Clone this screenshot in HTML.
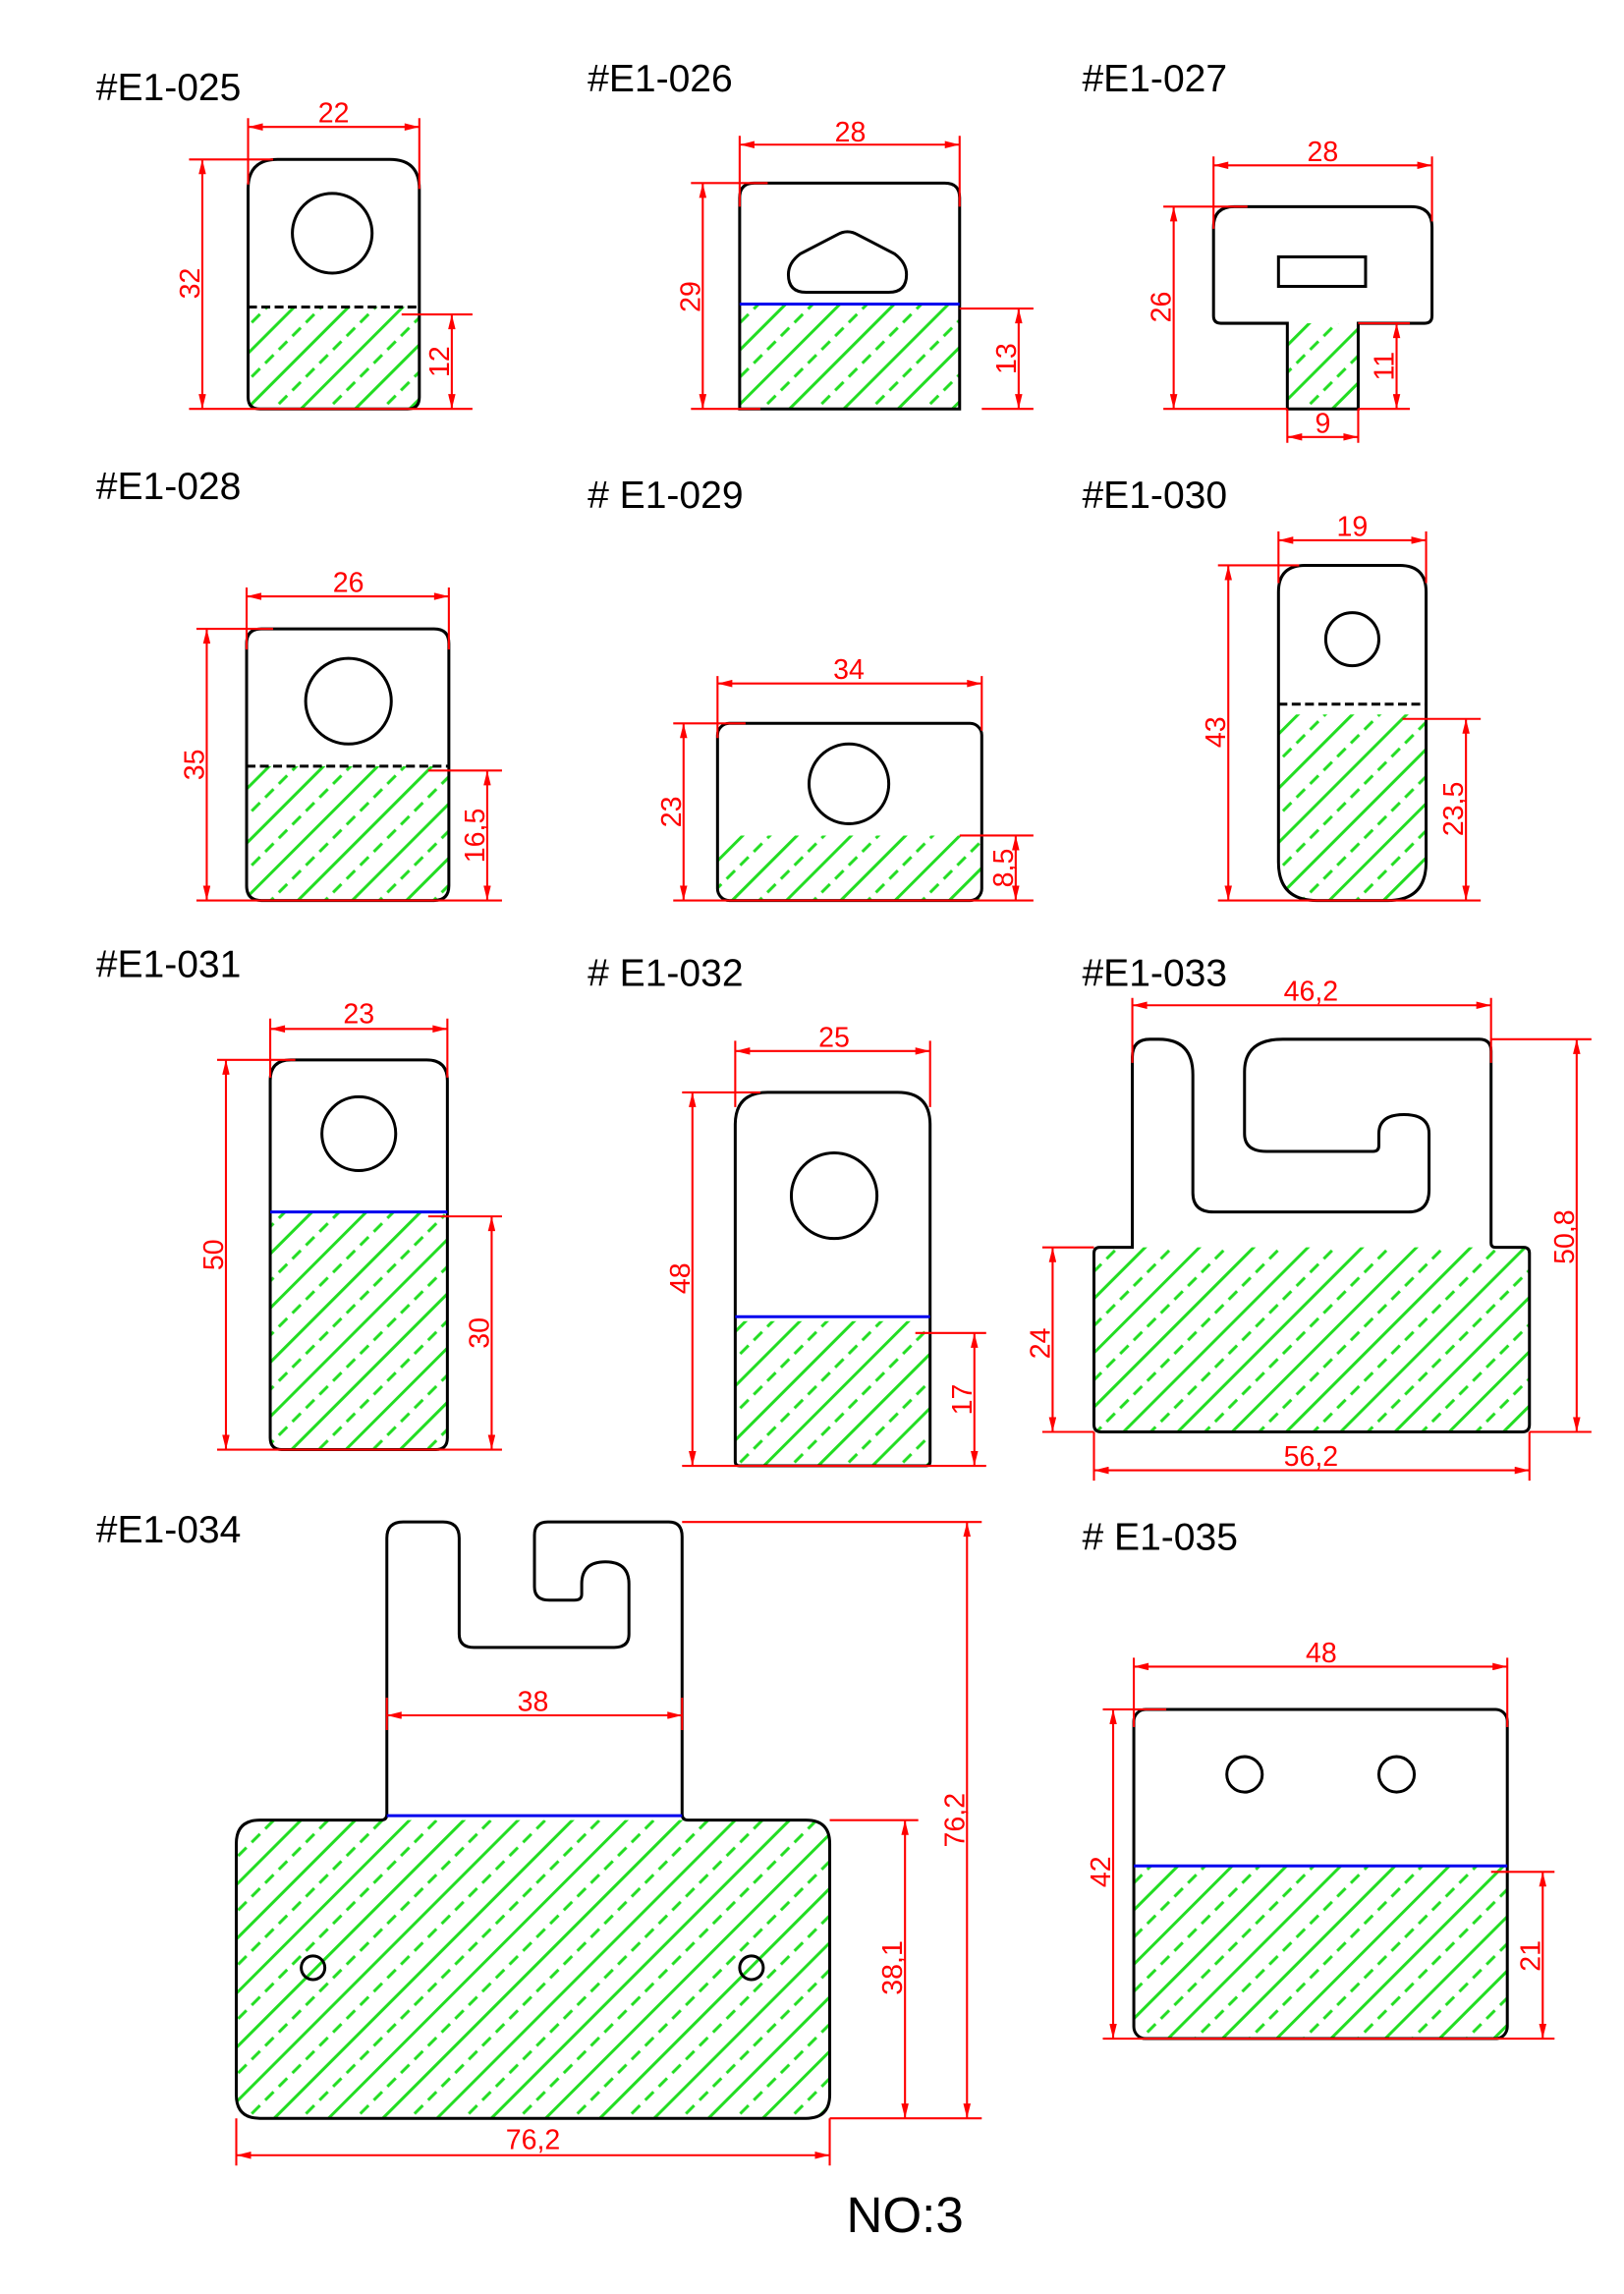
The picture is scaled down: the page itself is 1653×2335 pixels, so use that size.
<!DOCTYPE html>
<html><head><meta charset="utf-8"><style>html,body{margin:0;padding:0;background:#fff}svg{display:block}</style></head>
<body>
<svg xmlns="http://www.w3.org/2000/svg" width="1653" height="2335" viewBox="0 0 1100 1554">
<defs>
<marker id="a" viewBox="0 0 12 6" refX="12" refY="3" markerWidth="12" markerHeight="5" markerUnits="userSpaceOnUse" orient="auto-start-reverse"><path d="M0,0 L12,3 L0,6z" fill="#f00"/></marker>
<pattern id="h" patternUnits="userSpaceOnUse" width="26" height="26" patternTransform="rotate(45)">
<line x1="2" y1="0" x2="2" y2="26" stroke="#22dd22" stroke-width="2"/>
<line x1="15" y1="0" x2="15" y2="26" stroke="#22dd22" stroke-width="2" stroke-dasharray="8,5"/>
</pattern>
<clipPath id="c30"><path d="M866,401 Q866,383 884,383 L948,383 Q966,383 966,401 L966,584 Q966,610 940,610 L892,610 Q866,610 866,584 Z"/></clipPath>
</defs>
<rect width="1100" height="1554" fill="#fff"/>

<g font-family="Liberation Sans, Arial, sans-serif" font-size="26" fill="#000">
<text x="65" y="68">#E1-025</text>
<text x="398" y="62">#E1-026</text>
<text x="733" y="62">#E1-027</text>
<text x="65" y="338">#E1-028</text>
<text x="398" y="344"># E1-029</text>
<text x="733" y="344">#E1-030</text>
<text x="65" y="662">#E1-031</text>
<text x="398" y="668"># E1-032</text>
<text x="733" y="668">#E1-033</text>
<text x="65" y="1045">#E1-034</text>
<text x="733" y="1050"># E1-035</text>
<text x="613" y="1512" font-size="34" text-anchor="middle">NO:3</text>
</g>

<g fill="url(#h)">
<rect x="168" y="208" width="116" height="69" rx="4"/>
<rect x="501" y="206" width="149" height="71"/>
<rect x="872" y="219" width="48" height="58"/>
<rect x="167" y="519" width="137" height="91" rx="6"/>
<rect x="486" y="566" width="179" height="44" rx="4"/>
<rect x="860" y="484" width="110" height="130" clip-path="url(#c30)"/>
<rect x="183" y="821" width="120" height="161" rx="6"/>
<rect x="498" y="895" width="132" height="98"/>
<rect x="741" y="845" width="295" height="125" rx="4"/>
<rect x="160" y="1233" width="402" height="202" rx="16"/>
<rect x="768" y="1264" width="253" height="117" rx="4"/>
</g>

<g fill="none" stroke="#000" stroke-width="2">
<path d="M168,128 Q168,108 188,108 L264,108 Q284,108 284,128 L284,269 Q284,277 276,277 L176,277 Q168,277 168,269 Z"/>
<circle cx="225" cy="158" r="27"/>
<path d="M501,134 Q501,124 511,124 L640,124 Q650,124 650,134 L650,277 L501,277 Z"/>
<path d="M546,198 Q534,198 534,186 Q534,178 542,172 L567,159 Q574,155 581,159 L606,172 Q614,178 614,186 Q614,198 602,198 Z"/>
<path d="M822,154 Q822,140 836,140 L956,140 Q970,140 970,154 L970,214 Q970,219 965,219 L920,219 L920,277 L872,277 L872,219 L827,219 Q822,219 822,214 Z"/>
<rect x="866" y="174" width="59" height="20"/>
<path d="M167,436 Q167,426 177,426 L294,426 Q304,426 304,436 L304,600 Q304,610 294,610 L177,610 Q167,610 167,600 Z"/>
<circle cx="236" cy="475" r="29"/>
<rect x="486" y="490" width="179" height="120" rx="8"/>
<circle cx="575" cy="531" r="27"/>
<path d="M866,401 Q866,383 884,383 L948,383 Q966,383 966,401 L966,584 Q966,610 940,610 L892,610 Q866,610 866,584 Z"/>
<circle cx="916" cy="433" r="18"/>
<path d="M183,732 Q183,718 197,718 L289,718 Q303,718 303,732 L303,974 Q303,982 295,982 L191,982 Q183,982 183,974 Z"/>
<circle cx="243" cy="768" r="25"/>
<path d="M498,762 Q498,740 520,740 L608,740 Q630,740 630,762 L630,990 Q630,993 627,993 L501,993 Q498,993 498,990 Z"/>
<circle cx="565" cy="810" r="29"/>
<path d="M741,849 Q741,845 745,845 L767,845 L767,716 Q767,704 779,704 L785,704 Q808,704 808,728 L808,808 Q808,821 822,821 L954,821 Q968,821 968,806 L968,768 Q968,755 951,755 Q934,755 934,768 L934,776 Q934,780 930,780 L858,780 Q843,780 843,768 L843,726 Q843,704 869,704 L1002,704 Q1010,704 1010,712 L1010,842 Q1010,845 1013,845 L1032,845 Q1036,845 1036,849 L1036,965 Q1036,970 1031,970 L746,970 Q741,970 741,965 Z"/>
<path d="M160,1249 Q160,1233 176,1233 L258,1233 Q262,1233 262,1229 L262,1042 Q262,1031 273,1031 L300,1031 Q311,1031 311,1042 L311,1107 Q311,1116 321,1116 L416,1116 Q426,1116 426,1107 L426,1073 Q426,1058 410,1058 Q394,1058 394,1073 L394,1080 Q394,1084 389,1084 L372,1084 Q362,1084 362,1075 L362,1040 Q362,1031 371,1031 L453,1031 Q462,1031 462,1041 L462,1229 Q462,1233 466,1233 L546,1233 Q562,1233 562,1249 L562,1419 Q562,1435 546,1435 L176,1435 Q160,1435 160,1419 Z"/>
<circle cx="212" cy="1333" r="8"/>
<circle cx="509" cy="1333" r="8"/>
<rect x="768" y="1158" width="253" height="223" rx="8"/>
<circle cx="843" cy="1202" r="12"/>
<circle cx="946" cy="1202" r="12"/>
</g>
<g stroke="#000" stroke-width="2" stroke-dasharray="6,3">
<line x1="168" y1="208" x2="284" y2="208"/>
<line x1="167" y1="519" x2="304" y2="519"/>
<line x1="866" y1="477" x2="966" y2="477"/>
</g>
<g stroke="#0000ee" stroke-width="2">
<line x1="501" y1="206" x2="650" y2="206"/>
<line x1="183" y1="821" x2="303" y2="821"/>
<line x1="498" y1="892" x2="630" y2="892"/>
<line x1="262" y1="1230" x2="462" y2="1230"/>
<line x1="768" y1="1264" x2="1021" y2="1264"/>
</g>

<g stroke="#f00" stroke-width="1.4" fill="none">
<path d="M168,80V125M284,80V128M128,108H185M128,277H320M272,213H320"/>
<path d="M501,92V140M650,92V140M468,124H520M468,277H515M650,209H700M665,277H700"/>
<path d="M822,106V155M970,106V150M788,140H845M788,277H872M920,219H955M920,277H955M872,277V300M920,277V300"/>
<path d="M167,398V440M304,398V440M133,426H185M133,610H340M290,522H340"/>
<path d="M486,458V500M665,458V495M456,490H505M456,610H700M650,566H700"/>
<path d="M866,360V395M966,360V395M825,383H880M825,610H1003M950,487H1003"/>
<path d="M183,690V730M303,690V730M147,718H200M147,982H340M290,824H340"/>
<path d="M498,705V750M630,705V750M462,740H515M462,993H668M620,903H668"/>
<path d="M767,676V720M1010,676V720M1010,704H1078M1036,970H1078M706,845H741M706,970H741M741,970V1003M1036,970V1003"/>
<path d="M262,1150V1172M462,1150V1172M462,1031H665M562,1435H665M562,1233H622M160,1435V1467M562,1435V1467"/>
<path d="M768,1123V1170M1021,1123V1170M747,1158H790M747,1381H1053M1010,1268H1053"/>
</g>
<g stroke="#f00" stroke-width="1.4" marker-start="url(#a)" marker-end="url(#a)">
<line x1="168" y1="86" x2="284" y2="86"/>
<line x1="137" y1="108" x2="137" y2="277"/>
<line x1="306" y1="213" x2="306" y2="277"/>
<line x1="501" y1="98" x2="650" y2="98"/>
<line x1="476" y1="124" x2="476" y2="277"/>
<line x1="690" y1="209" x2="690" y2="277"/>
<line x1="822" y1="112" x2="970" y2="112"/>
<line x1="795" y1="140" x2="795" y2="277"/>
<line x1="946" y1="219" x2="946" y2="277"/>
<line x1="872" y1="296" x2="920" y2="296"/>
<line x1="167" y1="404" x2="304" y2="404"/>
<line x1="140" y1="426" x2="140" y2="610"/>
<line x1="330" y1="522" x2="330" y2="610"/>
<line x1="486" y1="463" x2="665" y2="463"/>
<line x1="463" y1="490" x2="463" y2="610"/>
<line x1="688" y1="566" x2="688" y2="610"/>
<line x1="866" y1="366" x2="966" y2="366"/>
<line x1="832" y1="383" x2="832" y2="610"/>
<line x1="993" y1="487" x2="993" y2="610"/>
<line x1="183" y1="697" x2="303" y2="697"/>
<line x1="153" y1="718" x2="153" y2="982"/>
<line x1="333" y1="824" x2="333" y2="982"/>
<line x1="498" y1="712" x2="630" y2="712"/>
<line x1="469" y1="740" x2="469" y2="993"/>
<line x1="660" y1="903" x2="660" y2="993"/>
<line x1="767" y1="681" x2="1010" y2="681"/>
<line x1="1068" y1="704" x2="1068" y2="970"/>
<line x1="713" y1="845" x2="713" y2="970"/>
<line x1="741" y1="996" x2="1036" y2="996"/>
<line x1="262" y1="1162" x2="462" y2="1162"/>
<line x1="655" y1="1031" x2="655" y2="1435"/>
<line x1="613" y1="1233" x2="613" y2="1435"/>
<line x1="160" y1="1460" x2="562" y2="1460"/>
<line x1="768" y1="1129" x2="1021" y2="1129"/>
<line x1="754" y1="1158" x2="754" y2="1381"/>
<line x1="1045" y1="1268" x2="1045" y2="1381"/>
</g>
<g font-family="Liberation Sans, Arial, sans-serif" font-size="19" fill="#f00" text-anchor="middle">
<text x="226" y="83">22</text>
<text transform="translate(135,192) rotate(-90)">32</text>
<text transform="translate(304,245) rotate(-90)">12</text>
<text x="576" y="96">28</text>
<text transform="translate(474,201) rotate(-90)">29</text>
<text transform="translate(688,243) rotate(-90)">13</text>
<text x="896" y="109">28</text>
<text transform="translate(793,208) rotate(-90)">26</text>
<text transform="translate(944,248) rotate(-90)">11</text>
<text x="896" y="293">9</text>
<text x="236" y="401">26</text>
<text transform="translate(138,518) rotate(-90)">35</text>
<text transform="translate(328,566) rotate(-90)">16,5</text>
<text x="575" y="460">34</text>
<text transform="translate(461,550) rotate(-90)">23</text>
<text transform="translate(686,588) rotate(-90)">8,5</text>
<text x="916" y="363">19</text>
<text transform="translate(830,496) rotate(-90)">43</text>
<text transform="translate(991,548) rotate(-90)">23,5</text>
<text x="243" y="693">23</text>
<text transform="translate(151,850) rotate(-90)">50</text>
<text transform="translate(331,903) rotate(-90)">30</text>
<text x="565" y="709">25</text>
<text transform="translate(467,866) rotate(-90)">48</text>
<text transform="translate(658,948) rotate(-90)">17</text>
<text x="888" y="678">46,2</text>
<text transform="translate(1066,838) rotate(-90)">50,8</text>
<text transform="translate(711,910) rotate(-90)">24</text>
<text x="888" y="993">56,2</text>
<text x="361" y="1159">38</text>
<text transform="translate(653,1233) rotate(-90)">76,2</text>
<text transform="translate(611,1333) rotate(-90)">38,1</text>
<text x="361" y="1456">76,2</text>
<text x="895" y="1126">48</text>
<text transform="translate(752,1268) rotate(-90)">42</text>
<text transform="translate(1043,1325) rotate(-90)">21</text>
</g>
</svg>
</body></html>
